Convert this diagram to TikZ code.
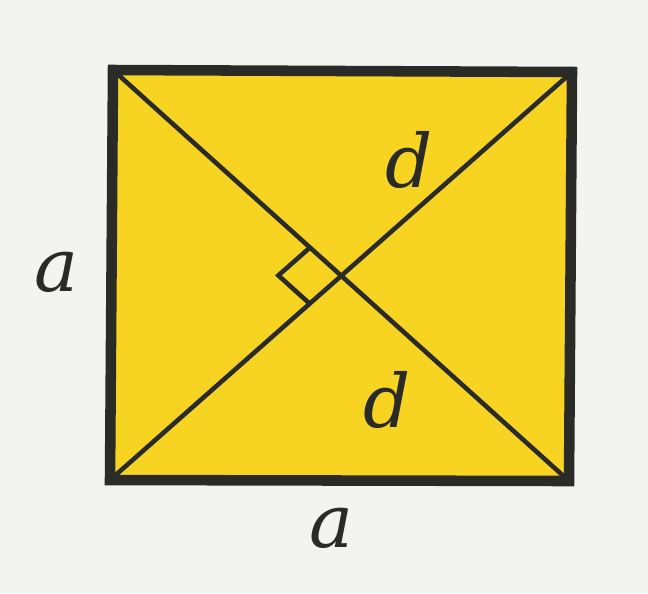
\documentclass[tikz,border=0pt]{standalone}
\usepackage{tikz}
\usepackage{fontspec}
\setmainfont{DejaVu Serif}
\usetikzlibrary{calc}
\definecolor{paper}{HTML}{F3F3F1}
\definecolor{sqfill}{HTML}{F7D421}
\definecolor{ink}{HTML}{2A2A26}
\tikzset{
  lbl/.style={font=\fontsize{42}{42}\selectfont\itshape, text=ink}
}
\begin{document}
\begin{tikzpicture}[x=0.02cm,y=-0.02cm]
\fill[paper] (0,0) rectangle (648,593);
\useasboundingbox (0,0) rectangle (648,593);
% corners of the square
\coordinate (tl) at (113,70);
\coordinate (tr) at (572,72);
\coordinate (br) at (569,481);
\coordinate (bl) at (110,480);
\draw[fill=sqfill, draw=ink, line width=6pt, line join=miter] (tl) -- (tr) -- (br) -- (bl) -- cycle;
% diagonals
\draw[ink, line width=2.6pt] (tl) -- (br);
\draw[ink, line width=2.6pt] (bl) -- (tr);
\coordinate (m) at (intersection of tl--br and bl--tr);
% right angle mark
\draw[ink, line width=2.6pt] ($(m)!24pt!(tl)$) -- ++($(m)!24pt!(bl)-(m)$) -- ($(m)!24pt!(bl)$);
\node[lbl] (a1) at (56,272) {a};
\node[lbl] (a2) at (331,528) {a};
\node[lbl] (d1) at (409,160) {d};
\node[lbl] (d2) at (387,400) {d};
\end{tikzpicture}
\end{document}
